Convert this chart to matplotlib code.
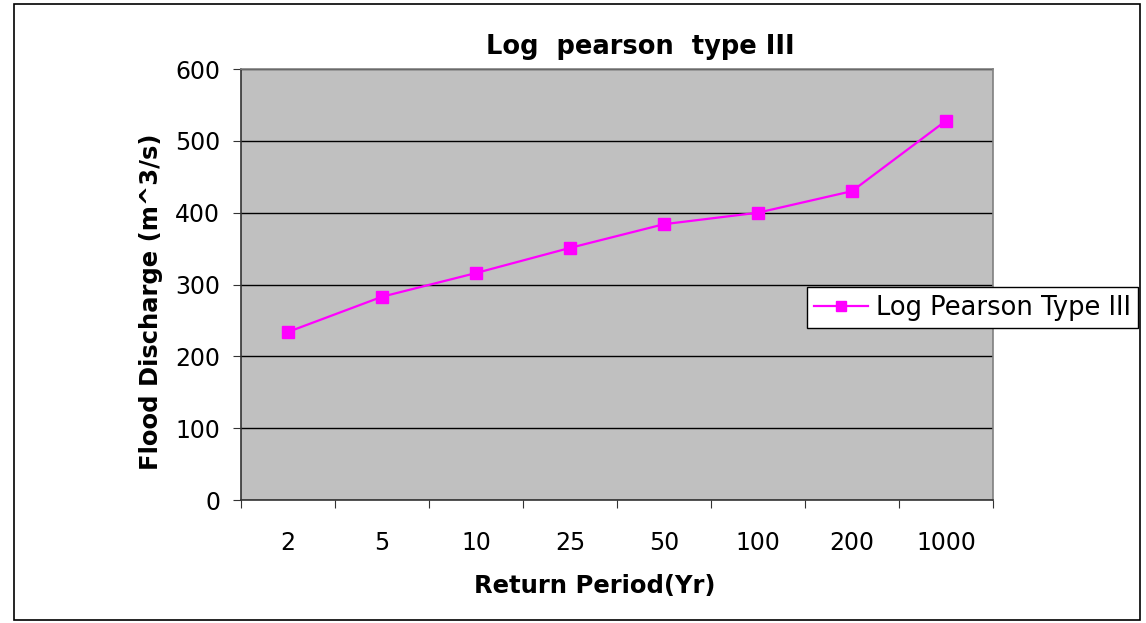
#!/usr/bin/env python3

import matplotlib
matplotlib.use('Agg')
import matplotlib.pyplot as plt
from matplotlib.patches import Rectangle

return_periods = ['2', '5', '10', '25', '50', '100', '200', '1000']
discharge = [234, 283, 316, 351, 384, 400, 430, 528]
y_ticks = [0, 100, 200, 300, 400, 500, 600]

plt.rcParams['font.family'] = ['DejaVu Sans']


def main():
    fig = plt.figure(figsize=(11.46, 6.23), dpi=100)
    # outer chart frame
    fig.patches.append(Rectangle((14 / 1146, 3 / 623), 1126 / 1146, 616 / 623,
                                 transform=fig.transFigure, fill=False,
                                 edgecolor='black', linewidth=1.2))

    ax = fig.add_axes([0.2103, 0.1974, 0.6562, 0.6918])
    ax.set_facecolor('#c0c0c0')

    x = list(range(len(return_periods)))
    ax.plot(x, discharge, color='#ff00ff', marker='s', markersize=9,
            linewidth=1.6, label='Log Pearson Type III')

    ax.set_xlim(-0.5, len(return_periods) - 0.5)
    ax.set_ylim(0, 600)
    ax.set_yticks(y_ticks)
    ax.yaxis.grid(True, color='black', linewidth=1)
    ax.set_axisbelow(True)

    # ticks between categories, labels centred on categories
    ax.set_xticks([i - 0.5 for i in range(len(return_periods) + 1)])
    ax.set_xticklabels([])
    ax.set_xticks(x, minor=True)
    ax.set_xticklabels(return_periods, minor=True)
    ax.tick_params(axis='x', which='minor', length=0, pad=22, labelsize=17)
    ax.tick_params(axis='x', which='major', length=6, direction='out', color='#333333')
    ax.tick_params(axis='y', length=6, labelsize=17, pad=9, color='#333333')

    for side in ['left', 'bottom']:
        ax.spines[side].set_color('#333333')
        ax.spines[side].set_linewidth(1.2)
    for side in ['top', 'right']:
        ax.spines[side].set_color('#808080')
        ax.spines[side].set_linewidth(1.2)

    ax.set_title('Log  pearson  type III', fontsize=18.5, fontweight='bold',
                 x=0.531, pad=11)
    ax.set_xlabel('Return Period(Yr)', fontsize=17.5, fontweight='bold', va='top')
    ax.xaxis.set_label_coords(0.471, -0.172)
    ax.set_ylabel('Flood Discharge (m^3/s)', fontsize=17.5, fontweight='bold', va='bottom')
    ax.yaxis.set_label_coords(-0.104, 0.459)

    leg = ax.legend(loc='center left', bbox_to_anchor=(0.7527, 0.4466), fontsize=18.5,
                    frameon=True, fancybox=False, borderpad=0.28, handlelength=2.1,
                    handletextpad=0.3, borderaxespad=0, markerscale=0.8)
    leg.get_frame().set_edgecolor('black')
    leg.get_frame().set_linewidth(1.0)
    leg.get_frame().set_facecolor('white')
    leg.get_frame().set_alpha(1)

    fig.savefig('out.png', dpi=100)


if __name__ == '__main__':
    main()
